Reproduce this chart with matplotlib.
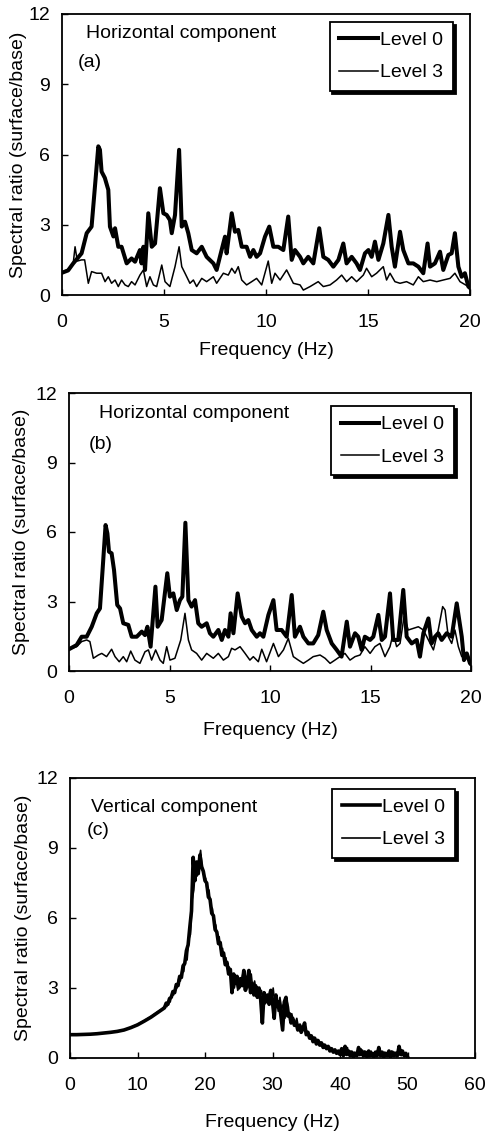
import matplotlib
matplotlib.use("Agg")
import matplotlib.pyplot as plt

plt.rcParams['font.family'] = ['Liberation Sans', 'DejaVu Sans']

# ---------------- Panel (a) ----------------
a_l0_f = [0.0, 0.3, 0.55, 0.96, 1.21, 1.45, 1.67, 1.78, 1.86, 1.94, 2.1, 2.27, 2.35, 2.52, 2.6,
          2.76, 2.92, 3.17, 3.41, 3.58, 3.82, 3.9, 3.99, 4.07, 4.23, 4.4, 4.56, 4.8, 4.97, 5.13,
          5.29, 5.38, 5.54, 5.74, 5.87, 6.03, 6.19, 6.36, 6.6, 6.85, 7.09, 7.42, 7.58, 7.74, 7.99,
          8.07, 8.32, 8.48, 8.64, 8.81, 9.05, 9.22, 9.38, 9.54, 9.71, 9.95, 10.16, 10.36, 10.6,
          10.85, 11.09, 11.26, 11.42, 11.67, 11.83, 12.07, 12.32, 12.61, 12.81, 13.05, 13.3, 13.55,
          13.79, 13.95, 14.2, 14.44, 14.61, 14.85, 15.02, 15.18, 15.34, 15.51, 15.75, 16.0, 16.16,
          16.32, 16.57, 16.73, 16.98, 17.22, 17.47, 17.71, 17.92, 18.04, 18.28, 18.53, 18.69, 18.94,
          19.1, 19.26, 19.43, 19.59, 19.75, 19.92, 20.0]
a_l0_v = [0.95, 1.05, 1.35, 1.78, 2.64, 2.92, 5.2, 6.35, 6.2, 5.27, 5.0, 4.49, 2.92, 2.5, 2.85,
          2.06, 2.06, 1.35, 1.56, 1.42, 1.92, 1.35, 2.06, 1.07, 3.49, 2.06, 2.2, 4.56, 3.49, 3.42,
          3.2, 2.64, 3.42, 6.2, 2.92, 3.13, 2.64, 1.92, 1.78, 2.06, 1.63, 1.35, 1.07, 1.63, 2.49,
          1.78, 3.49, 2.7, 2.78, 2.06, 2.06, 1.63, 1.92, 1.63, 1.78, 2.49, 2.92, 2.06, 2.06,
          1.92, 3.35, 1.5, 1.92, 1.63, 1.35, 1.63, 1.35, 2.85, 1.63, 1.5, 1.21, 1.5,
          2.2, 1.35, 1.63, 1.35, 1.07, 1.78, 1.92, 1.63, 2.28, 1.5, 2.2, 3.42, 2.06,
          1.21, 2.7, 1.92, 1.35, 1.35, 1.21, 0.93, 2.2, 1.21, 1.35, 1.85, 1.07, 1.71,
          1.78, 2.64, 1.21, 0.78, 0.93, 0.36, 0.3]

a_l3_f = [0.0, 0.3, 0.55, 0.64, 0.75, 0.96, 1.11, 1.29, 1.45, 1.7, 1.94, 2.11, 2.27, 2.43, 2.6,
          2.76, 2.92, 3.09, 3.25, 3.41, 3.58, 3.82, 3.99, 4.15, 4.31, 4.48, 4.64, 4.89, 5.05, 5.29,
          5.54, 5.74, 5.87, 6.03, 6.27, 6.44, 6.6, 6.85, 7.09, 7.42, 7.58, 7.91, 8.15, 8.32, 8.48,
          8.64, 8.81, 9.05, 9.3, 9.54, 9.79, 10.11, 10.28, 10.44, 10.69, 11.01, 11.18, 11.34, 11.67,
          11.83, 12.16, 12.56, 12.81, 13.14, 13.46, 13.71, 13.95, 14.2, 14.44, 14.77, 14.93, 15.18,
          15.42, 15.75, 15.91, 16.08, 16.32, 16.57, 16.89, 17.22, 17.47, 17.71, 18.04, 18.37, 18.69,
          19.02, 19.26, 19.51, 19.92, 20.0]
a_l3_v = [0.95, 1.1, 1.35, 2.06, 1.45, 1.5, 1.5, 0.5, 1.0, 0.93, 0.93, 0.57, 0.78, 0.5, 0.64,
          0.36, 0.64, 0.43, 0.36, 0.57, 0.43, 0.85, 1.07, 0.36, 0.78, 0.43, 0.36, 1.28, 0.57, 0.36,
          1.21, 2.06, 1.21, 0.93, 0.5, 0.64, 0.36, 0.71, 0.57, 0.78, 0.5, 0.93, 0.85, 1.14, 0.93,
          1.21, 0.64, 0.43, 0.57, 0.71, 0.43, 1.45, 0.5, 0.93, 0.64, 1.07, 0.78, 0.5, 0.43,
          0.21, 0.36, 0.57, 0.36, 0.43, 0.64, 0.85, 0.57, 0.78, 0.57, 0.85, 1.14, 0.78,
          0.93, 1.21, 0.64, 0.93, 0.57, 0.5, 0.57, 0.43, 0.78, 0.57, 0.64, 0.57, 0.64,
          0.71, 0.93, 0.57, 0.36, 0.3]

# ---------------- Panel (b) ----------------
b_l0_f = [0.0, 0.38, 0.63, 0.88, 1.13, 1.38, 1.54, 1.67, 1.82, 1.91, 1.99, 2.12, 2.24, 2.4, 2.54,
          2.7, 2.95, 3.12, 3.37, 3.62, 3.78, 3.9, 4.06, 4.3, 4.41, 4.61, 4.89, 5.02, 5.19, 5.36,
          5.52, 5.64, 5.79, 5.94, 6.1, 6.27, 6.43, 6.6, 6.85, 7.01, 7.18, 7.43, 7.6, 7.76, 7.93,
          8.04, 8.18, 8.39, 8.59, 8.76, 8.92, 9.09, 9.34, 9.5, 9.67, 9.92, 10.17, 10.33, 10.58,
          10.83, 11.08, 11.24, 11.49, 11.66, 11.91, 12.15, 12.4, 12.65, 12.82, 13.07, 13.32, 13.56,
          13.82, 13.98, 14.23, 14.39, 14.56, 14.72, 14.98, 15.14, 15.39, 15.56, 15.72, 15.97, 16.13,
          16.38, 16.63, 16.8, 17.05, 17.3, 17.46, 17.63, 17.88, 18.04, 18.21, 18.37, 18.54, 18.79,
          19.04, 19.29, 19.54, 19.65, 19.79, 19.95, 20.0]
b_l0_v = [0.94, 1.12, 1.48, 1.48, 1.91, 2.49, 2.7, 4.36, 6.3, 5.94, 5.15, 5.08, 4.36, 2.85, 2.7,
          2.06, 1.99, 1.48, 1.48, 1.7, 1.55, 1.91, 1.05, 3.64, 1.91, 2.2, 4.22, 3.21, 3.35, 2.63,
          3.06, 3.21, 6.4, 3.06, 2.78, 3.06, 2.06, 1.91, 2.06, 1.63, 1.48, 1.77, 1.34, 1.77, 1.48,
          2.49, 1.63, 3.35, 2.35, 2.06, 2.2, 1.77, 1.48, 1.63, 1.48, 2.42, 3.06, 1.77, 1.77,
          1.48, 3.28, 1.48, 1.91, 1.48, 1.19, 1.19, 1.55, 2.56, 1.77, 1.19, 0.91, 0.62,
          2.13, 1.05, 1.63, 1.48, 0.91, 1.48, 1.34, 1.48, 2.42, 1.34, 1.48, 3.35, 1.34,
          1.34, 3.5, 1.48, 1.19, 1.34, 0.62, 1.63, 2.27, 1.19, 1.48, 1.63, 1.34, 1.63,
          1.48, 2.92, 1.48, 0.47, 0.76, 0.33, 0.3]

b_l3_f = [0.0, 0.38, 0.63, 0.88, 1.04, 1.21, 1.46, 1.63, 1.87, 2.12, 2.29, 2.5, 2.7, 2.87, 3.07,
          3.28, 3.53, 3.78, 3.95, 4.11, 4.31, 4.53, 4.69, 4.86, 5.02, 5.27, 5.56, 5.77, 5.94, 6.1,
          6.35, 6.6, 6.85, 7.18, 7.43, 7.68, 7.93, 8.09, 8.26, 8.51, 8.76, 9.0, 9.17, 9.42, 9.59,
          9.83, 10.17, 10.42, 10.67, 10.91, 11.16, 11.41, 11.66, 11.91, 12.15, 12.49, 12.74, 12.99,
          13.23, 13.48, 13.73, 13.98, 14.23, 14.48, 14.72, 14.98, 15.22, 15.47, 15.72, 15.97, 16.13,
          16.3, 16.47, 16.67, 16.88, 17.13, 17.38, 17.63, 17.8, 18.13, 18.37, 18.59, 18.71, 18.87,
          19.04, 19.2, 19.37, 19.54, 19.79, 19.95, 20.0]
b_l3_v = [0.94, 1.05, 1.27, 1.34, 1.27, 0.55, 0.69, 0.76, 0.62, 0.94, 0.62, 0.4, 0.62, 0.4, 0.86,
          0.47, 0.33, 0.83, 0.91, 0.47, 0.91, 0.47, 0.33, 1.05, 0.47, 0.55, 1.34, 2.49, 1.34, 0.91,
          0.76, 0.47, 0.76, 0.55, 0.76, 0.47, 0.62, 0.98, 0.91, 1.05, 0.76, 0.47, 0.62, 0.4, 0.94,
          0.4, 1.19, 0.62, 0.91, 1.41, 0.62, 0.47, 0.33, 0.47, 0.62, 0.69, 0.55, 0.33,
          0.47, 0.62, 0.76, 0.47, 0.62, 0.69, 1.05, 0.76, 1.05, 1.19, 0.62, 1.05, 1.63,
          1.05, 1.19, 2.35, 1.77, 1.84, 1.91, 1.77, 1.48, 0.91, 1.77, 2.78, 2.63, 1.48,
          1.19, 1.77, 1.05, 0.62, 0.76, 0.26, 0.3]

# ---------------- Panel (c) ----------------
c_l0_f = [0, 1, 2, 3, 4, 5, 6, 7, 8, 9, 10, 11, 12, 13, 13.5,
          14.0, 14.25, 14.5, 14.75, 15.0, 15.25, 15.5, 15.75, 16.0, 16.25, 16.5, 16.75, 17.0, 17.25,
          17.5, 17.75, 18.0, 18.25, 18.5, 18.75, 19.0, 19.25, 19.5, 19.75, 20.0, 20.25, 20.5, 20.75,
          21.0, 21.25, 21.5, 21.75, 22.0, 22.25, 22.5, 22.75, 23.0, 23.25, 23.5, 23.75, 24.0, 24.25,
          24.5, 24.75, 25.0, 25.25, 25.5, 25.75, 26.0, 26.25, 26.5, 26.75, 27.0, 27.25, 27.5, 27.75,
          28.0, 28.25, 28.5, 28.75, 29.0, 29.25, 29.5, 29.75, 30.0, 30.25, 30.5, 30.75, 31.0, 31.25,
          31.5, 31.75, 32.0, 32.25, 32.5, 32.75, 33.0, 33.25, 33.5, 33.75, 34.0, 34.25, 34.5, 34.75,
          35.0, 35.25, 35.5, 35.75, 36.0, 36.25, 36.5, 36.75, 37.0, 37.25, 37.5, 37.75, 38.0, 38.25,
          38.5, 38.75, 39.0, 39.25, 39.5, 39.75, 40.0, 40.25, 40.5, 40.75, 41.0, 41.25, 41.5, 41.75,
          42.0, 42.25, 42.5, 42.75, 43.0, 43.25, 43.5, 43.75, 44.0, 44.25, 44.5, 44.75, 45.0, 45.25,
          45.5, 45.75, 46.0, 46.25, 46.5, 46.75, 47.0, 47.25, 47.5, 47.75, 48.0, 48.25, 48.5, 48.75,
          49.0, 49.25, 49.5, 49.75, 50.0]
c_l0_v = [1.0, 1.0, 1.01, 1.02, 1.04, 1.07, 1.1, 1.14, 1.2, 1.3, 1.42, 1.58, 1.75, 1.95, 2.05,
          2.15, 2.35, 2.3, 2.55, 2.6, 2.85, 2.8, 3.15, 3.1, 3.5, 3.45, 3.95, 4.05, 4.6,
          4.85, 5.6, 6.3, 8.6, 7.6, 8.4, 7.9, 8.7, 8.2, 8.0, 7.6, 7.5, 6.9, 6.8,
          6.2, 6.1, 5.5, 5.4, 4.9, 4.95, 4.4, 4.5, 4.0, 4.1, 3.6, 3.8, 2.8, 3.6,
          3.2, 3.5, 3.0, 3.4, 3.1, 3.75, 2.9, 3.3, 3.75, 2.8, 3.2, 2.7, 3.1, 2.6,
          3.0, 2.5, 1.5, 2.8, 2.4, 2.7, 2.3, 2.9, 2.4, 1.7, 2.7, 2.2, 2.4, 1.8,
          1.2, 2.4, 2.6, 1.8, 1.9, 1.5, 1.7, 1.4, 1.5, 1.2, 1.4, 1.1, 1.25, 1.5,
          1.0, 1.1, 0.85, 0.95, 0.7, 0.85, 0.6, 0.75, 0.55, 0.65, 0.45, 0.55, 0.4, 0.5,
          0.3, 0.4, 0.25, 0.35, 0.2, 0.3, 0.15, 0.4, 0.1, 0.5, 0.15, 0.3, 0.1, 0.25,
          0.05, 0.2, 0.1, 0.45, 0.15, 0.3, 0.1, 0.25, 0.05, 0.3, 0.1, 0.2, 0.05, 0.25,
          0.1, 0.45, 0.1, 0.25, 0.05, 0.2, 0.1, 0.3, 0.05, 0.25, 0.1, 0.2, 0.1, 0.5,
          0.15, 0.3, 0.1, 0.2, 0.05]

c_l3_f = [0, 1, 2, 3, 4, 5, 6, 7, 8, 9, 10, 11, 12, 13, 13.6,
          14.1, 14.35, 14.6, 14.85, 15.1, 15.35, 15.6, 15.85, 16.1, 16.35, 16.6, 16.85, 17.1, 17.35,
          17.6, 17.85, 18.1, 18.35, 18.6, 18.85, 19.1, 19.35, 19.6, 19.85, 20.1, 20.35, 20.6, 20.85,
          21.1, 21.35, 21.6, 21.85, 22.1, 22.35, 22.6, 22.85, 23.1, 23.35, 23.6, 23.85, 24.1, 24.35,
          24.6, 24.85, 25.1, 25.35, 25.6, 25.85, 26.1, 26.35, 26.6, 26.85, 27.1, 27.35, 27.6, 27.85,
          28.1, 28.35, 28.6, 28.85, 29.1, 29.35, 29.6, 29.85, 30.1, 30.35, 30.6, 30.85, 31.1, 31.35,
          31.6, 31.85, 32.1, 32.35, 32.6, 32.85, 33.1, 33.35, 33.6, 33.85, 34.1, 34.35, 34.6, 34.85,
          35.1, 35.35, 35.6, 35.85, 36.1, 36.35, 36.6, 36.85, 37.1, 37.35, 37.6, 37.85, 38.1, 38.35,
          38.6, 38.85, 39.1, 39.35, 39.6, 39.85, 40.1, 40.35, 40.6, 40.85, 41.1, 41.35, 41.6, 41.85,
          42.1, 42.35, 42.6, 42.85, 43.1, 43.35, 43.6, 43.85, 44.1, 44.35, 44.6, 44.85, 45.1, 45.35,
          45.6, 45.85, 46.1, 46.35, 46.6, 46.85, 47.1, 47.35, 47.6, 47.85, 48.1, 48.35, 48.6, 48.85,
          49.1, 49.35, 49.6, 49.85, 50.0]
c_l3_v = [1.0, 1.0, 1.01, 1.02, 1.04, 1.07, 1.1, 1.15, 1.21, 1.31, 1.44, 1.6, 1.78, 1.98, 2.1,
          2.25, 2.2, 2.45, 2.4, 2.75, 2.7, 3.05, 3.0, 3.4, 3.3, 3.8, 3.7, 4.3, 4.2,
          5.1, 5.3, 6.8, 7.2, 8.3, 7.8, 8.5, 8.9, 8.1, 7.8, 7.7, 7.1, 7.2, 6.5,
          6.4, 5.8, 5.7, 5.1, 5.2, 4.6, 4.7, 4.2, 4.3, 3.8, 3.9, 3.3, 3.5, 3.0,
          3.4, 2.9, 3.3, 3.2, 3.6, 2.9, 3.5, 3.0, 3.2, 3.6, 2.9, 3.3, 2.8, 3.0,
          2.6, 2.9, 2.5, 2.3, 2.7, 2.5, 2.9, 2.4, 3.0, 2.3, 2.5, 2.0, 2.6, 2.1,
          2.3, 1.7, 2.5, 2.2, 1.6, 1.9, 1.6, 1.5, 1.7, 1.3, 1.45, 1.3, 1.2, 1.35,
          1.05, 0.95, 1.0, 0.8, 0.9, 0.7, 0.8, 0.6, 0.65, 0.5, 0.6, 0.45, 0.5, 0.35,
          0.45, 0.3, 0.35, 0.2, 0.3, 0.15, 0.35, 0.1, 0.3, 0.2, 0.45, 0.1, 0.3, 0.05,
          0.25, 0.1, 0.3, 0.1, 0.4, 0.05, 0.3, 0.1, 0.2, 0.05, 0.3, 0.1, 0.2, 0.05,
          0.35, 0.15, 0.2, 0.05, 0.25, 0.1, 0.2, 0.05, 0.3, 0.1, 0.25, 0.05, 0.3, 0.35,
          0.1, 0.25, 0.05, 0.15, 0.05]

labels = ["Level 0", "Level 3"]
titles = ["Horizontal component", "Horizontal component", "Vertical component"]
tags = ["(a)", "(b)", "(c)"]
yticks = [0, 3, 6, 9, 12]
xticks_h = [0, 5, 10, 15, 20]
xticks_v = [0, 10, 20, 30, 40, 50, 60]

FS = 14
fig = plt.figure(figsize=(4.86, 11.36), dpi=100)

axes_rects = [
    [62 / 486, (1136 - 295) / 1136, 408 / 486, 281 / 1136],
    [69 / 486, (1136 - 671) / 1136, 402 / 486, 278 / 1136],
    [70 / 486, (1136 - 1058) / 1136, 405 / 486, 280 / 1136],
]
title_pos = [(0.059, 0.932), (0.075, 0.928), (0.051, 0.893)]
tag_pos = [(0.039, 0.826), (0.05, 0.813), (0.041, 0.814)]
leg_anchor = [(0.958, 0.972), (0.958, 0.953), (0.951, 0.961)]
ylab_x = [-0.086, -0.097, -0.094]
xlab_y = [-0.167, -0.183, -0.2]

data = [
    (a_l0_f, a_l0_v, a_l3_f, a_l3_v, xticks_h),
    (b_l0_f, b_l0_v, b_l3_f, b_l3_v, xticks_h),
    (c_l0_f, c_l0_v, c_l3_f, c_l3_v, xticks_v),
]

for i, (f0, v0, f3, v3, xt) in enumerate(data):
    ax = fig.add_axes(axes_rects[i])
    if i < 2:
        l0, = ax.plot(f0, v0, color='black', lw=2.9, solid_joinstyle='round', label=labels[0])
        l3, = ax.plot(f3, v3, color='black', lw=1.1, label=labels[1])
    else:
        l3, = ax.plot(f3, v3, color='black', lw=1.2, label=labels[1])
        l0, = ax.plot(f0, v0, color='black', lw=2.6, solid_joinstyle='round', label=labels[0])
    ax.set_xlim(xt[0], xt[-1])
    ax.set_ylim(0, 12)
    ax.set_xticks(xt)
    ax.set_yticks(yticks)
    ax.tick_params(direction='in', length=4, width=1, labelsize=FS, top=False, right=False)
    ax.tick_params(axis='x', pad=13.5)
    ax.tick_params(axis='y', pad=8.5)
    for s in ax.spines.values():
        s.set_linewidth(1.3)
    ax.set_ylabel("Spectral ratio (surface/base)", fontsize=FS)
    ax.yaxis.set_label_coords(ylab_x[i], 0.5)
    ax.set_xlabel("Frequency (Hz)", fontsize=FS)
    ax.xaxis.set_label_coords(0.5, xlab_y[i])
    ax.xaxis.label.set_va('top')
    ax.text(title_pos[i][0], title_pos[i][1], titles[i], transform=ax.transAxes,
            fontsize=FS, ha='left', va='center')
    ax.text(tag_pos[i][0], tag_pos[i][1], tags[i], transform=ax.transAxes,
            fontsize=FS, ha='left', va='center')
    leg = ax.legend(handles=[l0, l3], loc='upper right', bbox_to_anchor=leg_anchor[i],
                    borderaxespad=0, fancybox=False, frameon=True, fontsize=FS,
                    handlelength=2.0, handletextpad=0.1, labelspacing=0.75, borderpad=0.5,
                    shadow={'facecolor': 'black', 'edgecolor': 'black', 'alpha': 1.0})
    fr = leg.get_frame()
    fr.set_edgecolor('black')
    fr.set_linewidth(1.3)
    fr.set_alpha(1.0)
    fr.set_facecolor('white')

fig.savefig("out.png", dpi=100)
